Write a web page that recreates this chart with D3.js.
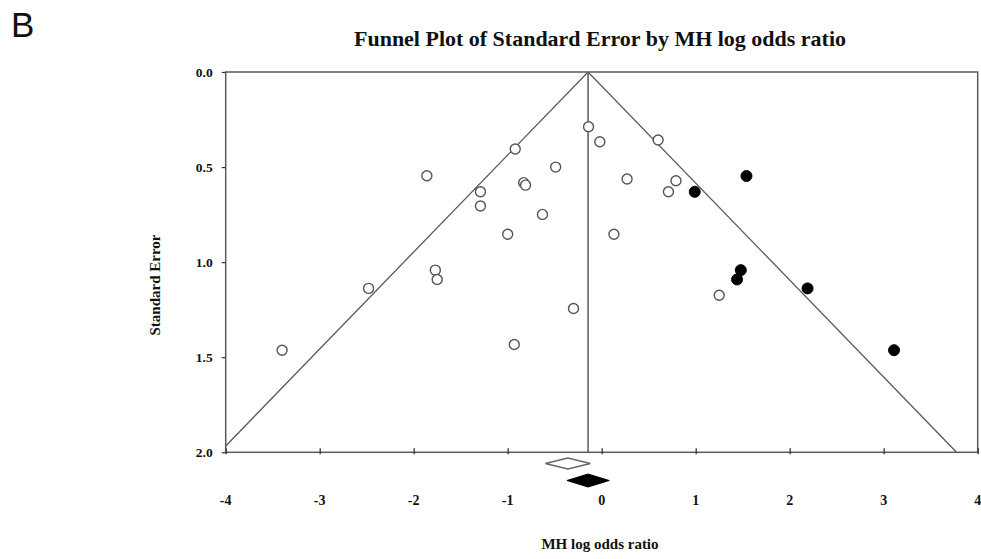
<!DOCTYPE html>
<html>
<head>
<meta charset="utf-8">
<script src="https://cdn.jsdelivr.net/npm/d3@7"></script>
<style>
  html, body { margin: 0; padding: 0; background: #fff; }
  svg { display: block; }
  text { font-family: "Liberation Serif", "Times New Roman", serif; font-weight: bold; fill: #111; }
</style>
</head>
<body>
<svg id="chart" width="981" height="559"></svg>
<script>
// ---- data ----
const xTickValues = [-4, -3, -2, -1, 0, 1, 2, 3, 4];
const yTickValues = [0.0, 0.5, 1.0, 1.5, 2.0];

const observedLogOR = [-0.14, -0.02, -0.92, 0.60, -0.49, -1.86, -0.83, -0.81, 0.27, 0.79,
                       0.71, -1.29, -1.29, -0.63, -1.00, 0.13, -1.77, -1.75, 1.25, -2.48,
                       -3.40, -0.93, -0.30];
const observedSE    = [0.288, 0.367, 0.405, 0.358, 0.50, 0.546, 0.582, 0.595, 0.563, 0.572,
                       0.63, 0.63, 0.705, 0.749, 0.853, 0.853, 1.042, 1.091, 1.174, 1.138,
                       1.463, 1.433, 1.244];

const imputedLogOR = [0.99, 1.54, 1.48, 1.44, 2.19, 3.11];
const imputedSE    = [0.63, 0.547, 1.042, 1.091, 1.138, 1.463];

const observedPooled = [-0.60, -0.36, -0.12];   // [lower, estimate, upper]
const adjustedPooled = [-0.37, -0.145, 0.08];   // [lower, estimate, upper]
const funnelCenter = -0.145;

// ---- layout ----
const svg = d3.select("#chart");
const pLeft = 225.7, pRight = 977.7, pTop = 72, pBottom = 452.3;

const x = d3.scaleLinear().domain([-4, 4]).range([pLeft, pRight]);
const y = d3.scaleLinear().domain([0, 2]).range([pTop, pBottom]);

const lineColor = "#5a5a5a";

// title and panel letter
svg.append("text")
  .attr("x", 11).attr("y", 37)
  .style("font-family", "Arial, 'Liberation Sans', sans-serif")
  .style("font-weight", "normal")
  .style("font-size", "35px")
  .text("B");

svg.append("text")
  .attr("x", 600).attr("y", 46)
  .attr("text-anchor", "middle")
  .attr("textLength", 492)
  .attr("lengthAdjust", "spacingAndGlyphs")
  .style("font-size", "21px")
  .text("Funnel Plot of Standard Error by MH log odds ratio");

// clip for funnel
svg.append("clipPath").attr("id", "plotclip")
  .append("rect").attr("x", pLeft).attr("y", pTop).attr("width", pRight - pLeft).attr("height", pBottom - pTop);

const g = svg.append("g");

// funnel lines
const funnel = g.append("g").attr("clip-path", "url(#plotclip)");
const seMax = 2.0;
funnel.append("path")
  .attr("d", d3.line()([
    [x(funnelCenter - 1.96 * seMax), y(seMax)],
    [x(funnelCenter), y(0)],
    [x(funnelCenter + 1.96 * seMax), y(seMax)]
  ]))
  .attr("fill", "none").attr("stroke", lineColor).attr("stroke-width", 1.3);

funnel.append("line")
  .attr("x1", x(funnelCenter)).attr("x2", x(funnelCenter))
  .attr("y1", y(0)).attr("y2", y(seMax))
  .attr("stroke", lineColor).attr("stroke-width", 1.5);

// frame
g.append("rect")
  .attr("x", pLeft).attr("y", pTop).attr("width", pRight - pLeft).attr("height", pBottom - pTop)
  .attr("fill", "none").attr("stroke", lineColor).attr("stroke-width", 1.5);

// x axis ticks (small, crossing bottom edge)
const xAxis = d3.axisBottom(x).tickValues(xTickValues).tickSize(0).tickFormat("");
const xa = g.append("g").attr("transform", `translate(0,${pBottom})`).call(xAxis);
xa.select(".domain").remove();
xa.selectAll(".tick").append("line")
  .attr("y1", -4).attr("y2", 2).attr("stroke", "#333").attr("stroke-width", 1.3);
// x tick labels placed lower, below the diamonds
g.selectAll(".xlab").data(xTickValues).enter().append("text")
  .attr("class", "xlab")
  .attr("x", d => x(d)).attr("y", 505)
  .attr("text-anchor", "middle")
  .style("font-size", "14px")
  .text(d => String(d));

// y axis
const yAxis = d3.axisLeft(y).tickValues(yTickValues).tickSize(4).tickPadding(9).tickFormat(d3.format(".1f"));
const ya = g.append("g").attr("transform", `translate(${pLeft},0)`).call(yAxis);
ya.select(".domain").remove();
ya.selectAll(".tick line").attr("stroke", "#333").attr("stroke-width", 1.2);
ya.selectAll(".tick text")
  .style("font-family", "'Liberation Serif', 'Times New Roman', serif")
  .style("font-weight", "bold").style("font-size", "13.5px").attr("fill", "#111");

// axis titles
svg.append("text")
  .attr("transform", "translate(160,285) rotate(-90)")
  .attr("text-anchor", "middle")
  .style("font-size", "15px")
  .text("Standard Error");

svg.append("text")
  .attr("x", 600).attr("y", 549)
  .attr("text-anchor", "middle")
  .style("font-size", "15px")
  .text("MH log odds ratio");

// points
const obs = observedLogOR.map((v, i) => ({ lor: v, se: observedSE[i] }));
const imp = imputedLogOR.map((v, i) => ({ lor: v, se: imputedSE[i] }));

g.selectAll(".obs").data(obs).enter().append("circle")
  .attr("class", "obs")
  .attr("cx", d => x(d.lor)).attr("cy", d => y(d.se)).attr("r", 5)
  .attr("fill", "#fff").attr("stroke", "#555").attr("stroke-width", 1.4);

g.selectAll(".imp").data(imp).enter().append("circle")
  .attr("class", "imp")
  .attr("cx", d => x(d.lor)).attr("cy", d => y(d.se)).attr("r", 5.5)
  .attr("fill", "#000").attr("stroke", "#000").attr("stroke-width", 1);

// diamonds
function diamond(vals, cy, h) {
  return d3.line()([
    [x(vals[0]), cy], [x(vals[1]), cy - h], [x(vals[2]), cy], [x(vals[1]), cy + h]
  ]) + "Z";
}
g.append("path").attr("d", diamond(observedPooled, 463.5, 5.5))
  .attr("fill", "#fff").attr("stroke", "#666").attr("stroke-width", 1.4);
g.append("path").attr("d", diamond(adjustedPooled, 480.5, 6.5))
  .attr("fill", "#000").attr("stroke", "#000").attr("stroke-width", 1);
</script>
</body>
</html>
